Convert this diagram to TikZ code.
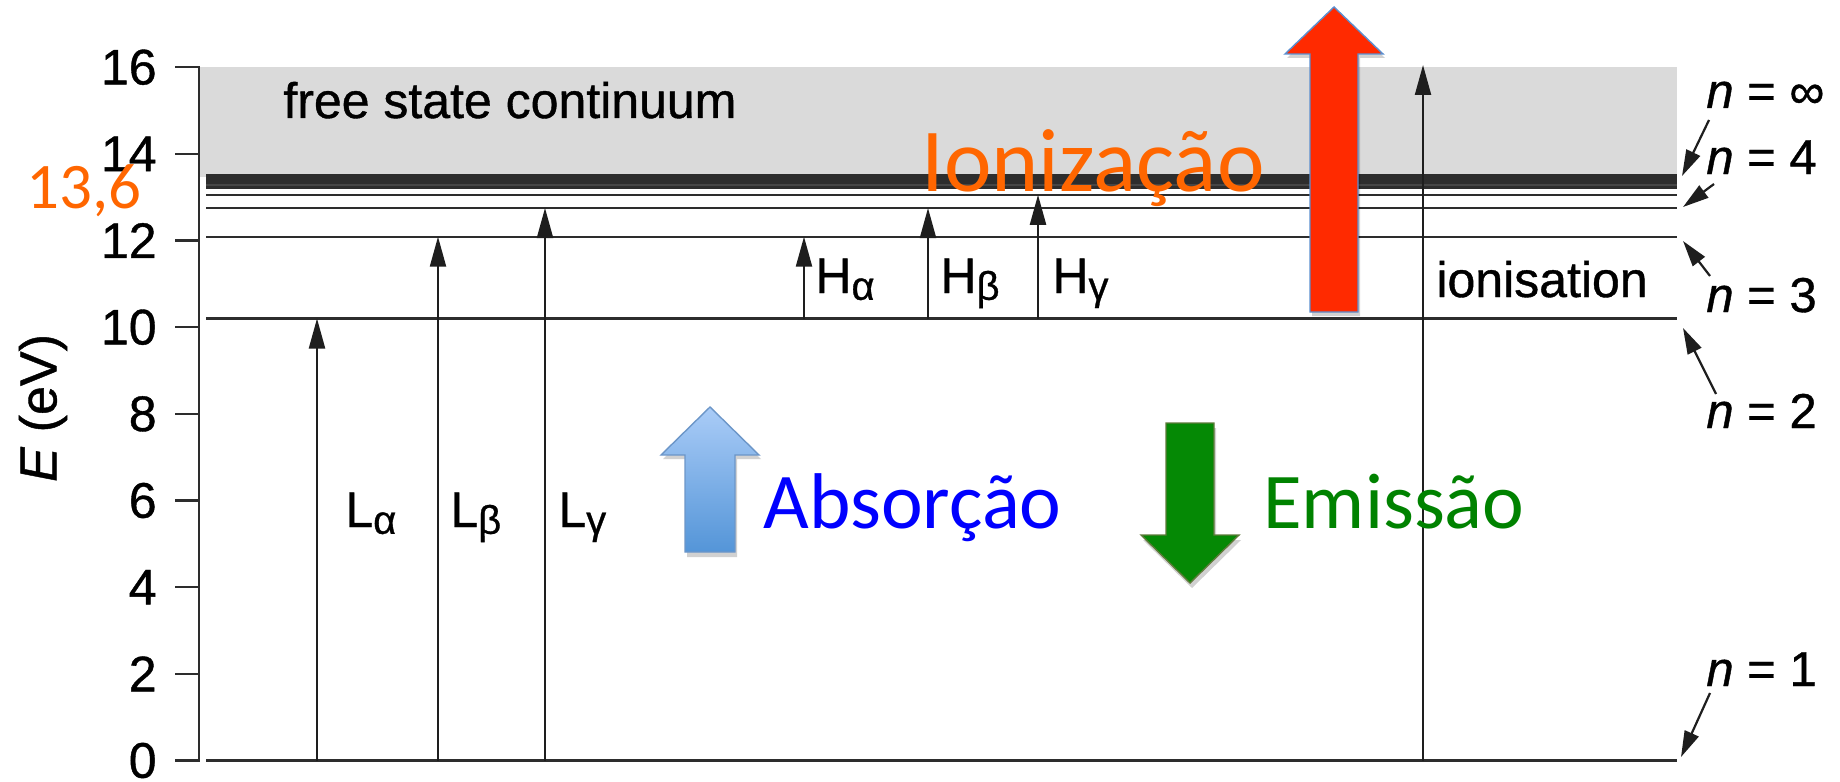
\documentclass[tikz,border=0pt]{standalone}
\usepackage{fontspec}
\setmainfont{Liberation Sans}[FakeBold=0.8]
\newfontfamily\calfont{Carlito}
\usetikzlibrary{arrows.meta}
\definecolor{contgray}{RGB}{218,218,218}
\definecolor{bandgray}{RGB}{70,70,70}
\definecolor{linegray}{RGB}{45,45,45}
\definecolor{arrgray}{RGB}{30,30,30}
\definecolor{orangetxt}{RGB}{255,102,0}
\definecolor{bluetxt}{RGB}{0,0,255}
\definecolor{greentxt}{RGB}{0,130,0}
\definecolor{absTop}{RGB}{170,204,247}
\definecolor{absBot}{RGB}{84,149,216}
\definecolor{absEdge}{RGB}{108,150,200}
\definecolor{emiFill}{RGB}{5,137,5}
\definecolor{emiEdge}{RGB}{95,123,59}
\definecolor{ionFill}{RGB}{255,42,0}
\definecolor{ionEdge}{RGB}{91,143,208}
\newcommand{\sbs}[1]{\raisebox{-3.4pt}{\fontsize{20}{20}\selectfont #1}}
\begin{document}
\begin{tikzpicture}[x=0.5pt,y=-0.5pt,
  axisline/.style={line width=1.15pt, draw=linegray},
  lvl/.style={line width=1.15pt, draw=linegray},
  trans/.style={line width=1.1pt, draw=arrgray, -{Triangle[length=15pt,width=8pt]}},
  ptr/.style={line width=1.1pt, draw=arrgray, -{Triangle[length=13pt,width=7.5pt]}},
  ticklab/.style={font=\fontsize{25}{29}\selectfont, inner sep=0pt, anchor=east},
  lab/.style={font=\fontsize{25}{29}\selectfont, inner sep=0pt, anchor=base west},
  nlab/.style={font=\fontsize{24.5}{29}\selectfont, inner sep=0pt, anchor=base west},
  callab/.style={inner sep=0pt, anchor=base west},
  shadowfill/.style={fill=black, opacity=0.18}
]
\useasboundingbox (0,0) rectangle (1840,781);
\fill[white] (0,0) rectangle (1840,781);

% continuum
\fill[contgray] (200,67) rectangle (1677,177);
\node[lab] (cont) at (283,118) {free state continuum};

% axis and ticks
\draw[axisline] (175,66.7) -- (199,66.7) -- (199,760.5) -- (175,760.5);
\foreach \e in {2,4,...,14} \draw[axisline] (175,{760.5-43.33*\e}) -- (199,{760.5-43.33*\e});
\foreach \e in {0,2,...,16} \node[ticklab] (t\e) at (157,{760.5-43.33*\e}) {\e};
\node[font=\fontsize{26}{30}\selectfont, rotate=90, inner sep=0pt] (elab) at (43,408) {\textit{E} (eV)};

% energy levels
\fill[bandgray] (206,176.5) rectangle (1677,187.5);
\foreach \n in {1,...,12} \draw[lvl] (206,{760.5-43.33*13.6*(1-1/(\n*\n))}) -- (1677,{760.5-43.33*13.6*(1-1/(\n*\n))});

% Lyman
\coordinate (La0) at (317,760.5); \coordinate (La1) at (317,318.5);
\coordinate (Lb0) at (438,760.5); \coordinate (Lb1) at (438,236.7);
\coordinate (Lg0) at (545,760.5); \coordinate (Lg1) at (545,208);
\draw[trans] (La0) -- (La1);
\draw[trans] (Lb0) -- (Lb1);
\draw[trans] (Lg0) -- (Lg1);
\node[lab] (Lal) at (345,527) {L\sbs{α}};
\node[lab] (Lbl) at (450,527) {L\sbs{β}};
\node[lab] (Lgl) at (558,527) {L\sbs{γ}};

% Balmer
\coordinate (Ha0) at (804,318.5); \coordinate (Ha1) at (804,236.7);
\coordinate (Hb0) at (928,318.5); \coordinate (Hb1) at (928,208);
\coordinate (Hg0) at (1038,318.5); \coordinate (Hg1) at (1038,194.8);
\draw[trans] (Ha0) -- (Ha1);
\draw[trans] (Hb0) -- (Hb1);
\draw[trans] (Hg0) -- (Hg1);
\node[lab] (Hal) at (815,293) {H\sbs{α}};
\node[lab] (Hbl) at (940,293) {H\sbs{β}};
\node[lab] (Hgl) at (1052,293) {H\sbs{γ}};

% ionisation
\coordinate (I0) at (1423,760.5); \coordinate (I1) at (1423,65);
\draw[trans] (I0) -- (I1);
\node[lab] (ionl) at (1436,297) {ionisation};

% n labels
\node[nlab] (ninf) at (1706,108) {\textit{n} = ∞};
\node[nlab] (n4) at (1706,174) {\textit{n} = 4};
\node[nlab] (n3) at (1706,312) {\textit{n} = 3};
\node[nlab] (n2) at (1706,428) {\textit{n} = 2};
\node[nlab] (n1) at (1706,686) {\textit{n} = 1};
\coordinate (pinf0) at (1709,120); \coordinate (pinf1) at (1682,176);
\coordinate (p40) at (1714,184); \coordinate (p41) at (1683,207);
\coordinate (p30) at (1710,276); \coordinate (p31) at (1683,241);
\coordinate (p20) at (1716,394); \coordinate (p21) at (1683,328);
\coordinate (p10) at (1710,693); \coordinate (p11) at (1681,757);
\draw[ptr] (pinf0) -- (pinf1);
\draw[ptr] (p40) -- (p41);
\draw[ptr] (p30) -- (p31);
\draw[ptr] (p20) -- (p21);
\draw[ptr] (p10) -- (p11);

% coloured overlay
\node[callab, text=orangetxt, font=\calfont\fontsize{32.5}{36}\selectfont] (v136) at (26,208) {13,6};
\node[callab, text=orangetxt, font=\calfont\fontsize{45}{50}\selectfont] (ioniz) at (921,191) {Ionização};
\node[callab, text=bluetxt, font=\calfont\fontsize{39.5}{44}\selectfont] (absl) at (763,528) {Absorção};
\node[callab, text=greentxt, font=\calfont\fontsize{39.5}{44}\selectfont] (emil) at (1263,528) {Emissão};

% absorption block arrow
\fill[shadowfill] (712,411) -- (761,459) -- (737,459) -- (737,557) -- (687,557) -- (687,459) -- (663,459) -- cycle;
\shade[top color=absTop, bottom color=absBot, draw=absEdge, line width=0.7pt]
  (710,407) -- (759,455) -- (735,455) -- (735,552) -- (685,552) -- (685,455) -- (661,455) -- cycle;

% emission block arrow
\fill[shadowfill] (1168,428) -- (1216,428) -- (1216,540) -- (1241,540) -- (1192,588) -- (1143,540) -- (1168,540) -- cycle;
\draw[fill=emiFill, draw=emiEdge, line width=0.7pt]
  (1166,423) -- (1214,423) -- (1214,535) -- (1239,535) -- (1190,583) -- (1141,535) -- (1166,535) -- cycle;

% ionisation block arrow
\fill[shadowfill] (1336,11) -- (1385,58) -- (1360,58) -- (1360,316) -- (1312,316) -- (1312,58) -- (1287,58) -- cycle;
\draw[fill=ionFill, draw=ionEdge, line width=0.7pt]
  (1334,7) -- (1383,54) -- (1358,54) -- (1358,312) -- (1310,312) -- (1310,54) -- (1285,54) -- cycle;
\end{tikzpicture}
\end{document}
